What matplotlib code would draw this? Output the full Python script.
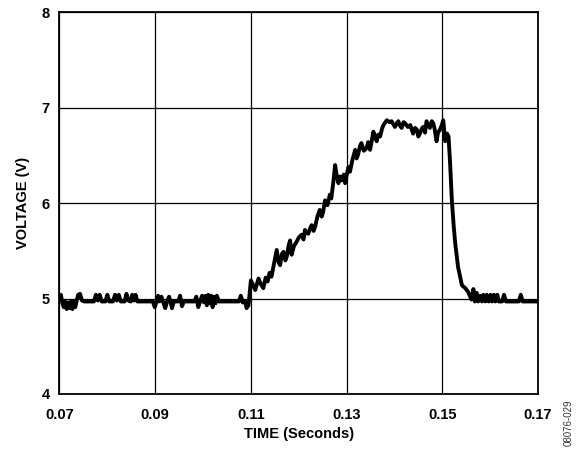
import matplotlib
matplotlib.use("Agg")
import matplotlib.pyplot as plt

plt.rcParams['font.family'] = ['Liberation Sans', 'DejaVu Sans']

x_ticks = [0.07, 0.09, 0.11, 0.13, 0.15, 0.17]
x_tick_labels = ["0.07", "0.09", "0.11", "0.13", "0.15", "0.17"]
y_ticks = [4, 5, 6, 7, 8]
y_tick_labels = ["4", "5", "6", "7", "8"]

time_s = [
    0.0700, 0.0703, 0.0706, 0.0709, 0.0712, 0.0715, 0.0718, 0.0721, 0.0724, 0.0727,
    0.0730, 0.0733, 0.0736, 0.0739, 0.0743, 0.0747, 0.0752, 0.0772, 0.0776, 0.0780,
    0.0784, 0.0788, 0.0796, 0.0800, 0.0804, 0.0812, 0.0816, 0.0820, 0.0824, 0.0828,
    0.0836, 0.0840, 0.0844, 0.0849, 0.0852, 0.0856, 0.0859, 0.0863, 0.0895, 0.0899,
    0.0903, 0.0906, 0.0909, 0.0913, 0.0917, 0.0921, 0.0925, 0.0929, 0.0932, 0.0935,
    0.0939, 0.0948, 0.0952, 0.0956, 0.0960, 0.0982, 0.0986, 0.0990, 0.0994, 0.0998,
    0.1002, 0.1005, 0.1008, 0.1011, 0.1014, 0.1017, 0.1020, 0.1023, 0.1026, 0.1029,
    0.1033, 0.1075, 0.1079, 0.1083, 0.1088, 0.1091, 0.1095, 0.1100, 0.1105, 0.1109,
    0.1116, 0.1121, 0.1126, 0.1131, 0.1135, 0.1139, 0.1143, 0.1148, 0.1154, 0.1158,
    0.1161, 0.1165, 0.1168, 0.1172, 0.1175, 0.1179, 0.1182, 0.1185, 0.1190, 0.1196,
    0.1200, 0.1206, 0.1210, 0.1213, 0.1217, 0.1220, 0.1224, 0.1227, 0.1231, 0.1234,
    0.1239, 0.1244, 0.1248, 0.1251, 0.1255, 0.1260, 0.1265, 0.1268, 0.1272, 0.1276,
    0.1280, 0.1283, 0.1286, 0.1290, 0.1294, 0.1297, 0.1300, 0.1304, 0.1307, 0.1312,
    0.1318, 0.1321, 0.1324, 0.1328, 0.1331, 0.1336, 0.1342, 0.1345, 0.1349, 0.1356,
    0.1360, 0.1363, 0.1366, 0.1370, 0.1374, 0.1377, 0.1384, 0.1390, 0.1394, 0.1401,
    0.1405, 0.1408, 0.1412, 0.1415, 0.1419, 0.1422, 0.1428, 0.1433, 0.1439, 0.1443,
    0.1447, 0.1450, 0.1453, 0.1457, 0.1460, 0.1464, 0.1467, 0.1470, 0.1474, 0.1478,
    0.1481, 0.1484, 0.1488, 0.1491, 0.1495, 0.1499, 0.1502, 0.1506, 0.1510, 0.1513,
    0.1516, 0.1520, 0.1524, 0.1527, 0.1533, 0.1541, 0.1548, 0.1554, 0.1561, 0.1565,
    0.1568, 0.1572, 0.1575, 0.1579, 0.1583, 0.1586, 0.1590, 0.1593, 0.1597, 0.1601,
    0.1604, 0.1608, 0.1611, 0.1615, 0.1618, 0.1625, 0.1629, 0.1633, 0.1660, 0.1664,
    0.1668, 0.1700,
]
voltage_v = [
    5.03, 5.04, 4.95, 4.91, 4.97, 4.89, 4.96, 4.90, 4.97, 4.89,
    4.97, 4.91, 4.98, 5.04, 5.05, 4.98, 4.97, 4.97, 5.04, 4.98,
    5.04, 4.97, 4.97, 5.04, 4.97, 4.97, 5.04, 4.98, 5.04, 4.97,
    4.97, 5.05, 4.98, 4.97, 5.04, 4.98, 5.04, 4.97, 4.97, 4.91,
    4.97, 5.03, 4.97, 5.02, 4.96, 4.90, 4.97, 5.02, 4.97, 4.90,
    4.97, 4.97, 5.03, 4.92, 4.97, 4.97, 5.02, 4.91, 4.97, 5.03,
    4.96, 5.03, 4.93, 5.04, 4.95, 5.03, 4.91, 5.02, 4.95, 5.03,
    4.97, 4.97, 5.03, 4.96, 4.97, 4.90, 4.93, 5.19, 5.14, 5.09,
    5.21, 5.15, 5.11, 5.22, 5.18, 5.27, 5.23, 5.36, 5.51, 5.38,
    5.35, 5.47, 5.49, 5.40, 5.44, 5.56, 5.61, 5.46, 5.55, 5.60,
    5.64, 5.67, 5.62, 5.72, 5.69, 5.68, 5.74, 5.77, 5.71, 5.75,
    5.86, 5.93, 5.86, 5.91, 6.03, 5.98, 6.09, 6.05, 6.21, 6.40,
    6.27, 6.21, 6.28, 6.24, 6.30, 6.21, 6.29, 6.38, 6.33, 6.45,
    6.56, 6.47, 6.51, 6.60, 6.63, 6.55, 6.58, 6.64, 6.56, 6.75,
    6.68, 6.65, 6.72, 6.70, 6.78, 6.82, 6.87, 6.85, 6.86, 6.80,
    6.84, 6.86, 6.81, 6.79, 6.85, 6.84, 6.80, 6.82, 6.73, 6.79,
    6.77, 6.70, 6.73, 6.78, 6.80, 6.74, 6.86, 6.83, 6.79, 6.86,
    6.84, 6.78, 6.65, 6.74, 6.77, 6.82, 6.87, 6.65, 6.73, 6.70,
    6.45, 6.03, 5.75, 5.58, 5.33, 5.14, 5.11, 5.07, 4.99, 5.10,
    4.97, 5.06, 4.97, 5.03, 4.97, 5.04, 4.97, 5.04, 4.97, 5.04,
    4.97, 5.04, 4.97, 5.04, 4.97, 4.97, 5.04, 4.97, 4.97, 5.04,
    4.97, 4.97,
]

fig = plt.figure(figsize=(5.77, 4.54), dpi=100)
ax = fig.add_axes([0.1031, 0.1322, 0.8293, 0.8403])

ax.plot(time_s, voltage_v, color='black', lw=2.8, solid_joinstyle='round', zorder=3)

ax.set_xlim(0.07, 0.17)
ax.set_ylim(4, 8)
ax.set_xticks(x_ticks)
ax.set_xticklabels(x_tick_labels)
ax.set_yticks(y_ticks)
ax.set_yticklabels(y_tick_labels)
ax.grid(True, color='black', lw=0.9)
ax.tick_params(axis='both', length=0, labelsize=10.5)
ax.tick_params(axis='x', pad=10)
ax.tick_params(axis='y', pad=7)
for lab in ax.get_xticklabels() + ax.get_yticklabels():
    lab.set_fontweight('bold')
for sp in ax.spines.values():
    sp.set_linewidth(1.3)

ax.set_xlabel("TIME (Seconds)", fontsize=10.5, fontweight='bold', labelpad=4)
ax.set_ylabel("VOLTAGE (V)", fontsize=10.5, fontweight='bold', labelpad=8)

fig.text(0.986, 0.068, "08076-029", rotation=90, fontsize=7, color='#333333',
         ha='center', va='center')

fig.savefig("out.png", dpi=100)
